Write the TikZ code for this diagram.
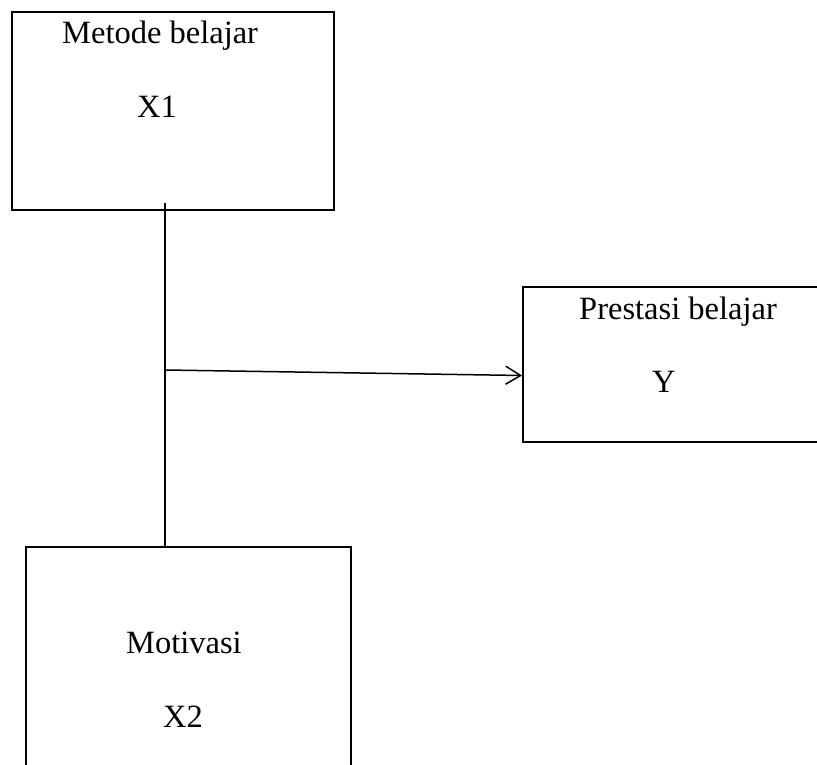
\documentclass[tikz,border=0pt]{standalone}
\usepackage{fontspec}
\setmainfont{Liberation Serif}
\usetikzlibrary{arrows.meta}

\begin{document}
\begin{tikzpicture}[x=1pt,y=-1pt,
    box/.style={draw,line width=1.8pt,inner sep=0pt},
    lbl/.style={font=\fontsize{32.5}{39}\selectfont,inner sep=0pt,anchor=base west},
    link/.style={line width=1.5pt}]
       \useasboundingbox (0,0) rectangle (817,765);
       \clip (0,0) rectangle (817,765);

       \node[box,minimum width=322pt,minimum height=198pt] (x1) at (173,111) {};
       \node[box,minimum width=307pt,minimum height=155pt] (y) at (676.5,364.5) {};
       \node[box,minimum width=325pt,minimum height=233pt] (x2) at (188.5,663.5) {};

       \node[lbl] (x1name) at (62,44) {Metode belajar};
       \node[lbl] (x1sym) at (137,118) {X1};
       \node[lbl] (yname) at (579,319) {Prestasi belajar};
       \node[lbl] (ysym) at (652,392) {Y};
       \node[lbl] (x2name) at (126,653) {Motivasi};
       \node[lbl] (x2sym) at (163,727) {X2};

       \coordinate (j) at (165,370);
       \draw[link] ([yshift=8pt]j |- x1.south) -- ([yshift=-2pt]j |- x2.north);
       \draw[link,-{Straight Barb[length=15pt,width=18pt]}] (j) -- ([yshift=-11pt]y.west);
    \end{tikzpicture}
\end{document}
